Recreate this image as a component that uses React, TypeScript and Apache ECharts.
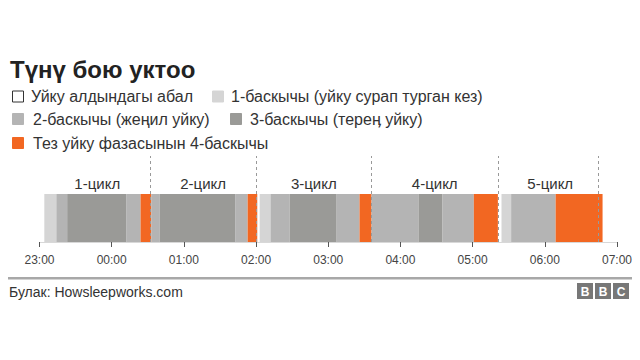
import React, { useEffect, useRef } from "react";
import * as echarts from "echarts";

// minutes after 23:00
const hourLabels = ["23:00", "00:00", "01:00", "02:00", "03:00", "04:00", "05:00", "06:00", "07:00"];
const segStart = [4, 14, 23, 72, 84, 93, 100, 163, 173, 183, 192, 208, 247, 266, 276, 315, 335, 361, 384, 392, 429];
const segEnd = [14, 23, 72, 84, 93, 100, 163, 173, 181, 192, 208, 247, 266, 276, 315, 335, 361, 381, 392, 429, 468];
const segStage = [1, 2, 3, 2, 4, 2, 3, 2, 4, 1, 2, 3, 2, 4, 2, 3, 2, 4, 1, 2, 4];
const cycleNames = ["1-цикл", "2-цикл", "3-цикл", "4-цикл", "5-цикл"];
const cycleStart = [4, 92, 180, 276, 381];
const cycleEnd = [92, 180, 276, 381, 468];
const cycleLines = [92, 180, 276, 381, 464];
const stageNames = [
  "Уйку алдындагы абал",
  "1-баскычы (уйку сурап турган кез)",
  "2-баскычы (жеңил уйку)",
  "3-баскычы (тереӊ уйку)",
  "Тез уйку фазасынын 4-баскычы",
];
const titleText = "Түнү бою уктоо";
const sourceText = "Булак: Howsleepworks.com";

const stageColors = ["#ffffff", "#d5d5d5", "#b4b4b4", "#9a9a97", "#f26722"];
const FONT = "'Liberation Sans', Arial, Helvetica, sans-serif";
const BAR_TOP = 0.558;
const LABEL_Y = 0.686;

export default function App() {
  const ref = useRef<HTMLDivElement>(null);
  useEffect(() => {
    document.body.style.margin = "0";
    const chart = echarts.init(ref.current!, null, { renderer: "svg" });
    const segData = segStart.map((s, i) => [s, segEnd[i], segStage[i]]);
    const labelData = cycleNames.map((n, i) => [(cycleStart[i] + cycleEnd[i]) / 2, LABEL_Y, i]);

    const legendItems = [
      { sq: 12, tx: 31, y: 96.5, stage: 0 },
      { sq: 212, tx: 231, y: 96.5, stage: 1 },
      { sq: 12, tx: 33, y: 119, stage: 2 },
      { sq: 230, tx: 250, y: 119, stage: 3 },
      { sq: 12, tx: 33, y: 143, stage: 4 },
    ];
    const graphics: any[] = [
      {
        type: "text",
        x: 10,
        y: 69,
        style: { text: titleText, font: `bold 24px ${FONT}`, fill: "#222", verticalAlign: "middle" },
      },
    ];
    legendItems.forEach((it) => {
      graphics.push({
        type: "rect",
        shape: { x: it.sq + 0.5, y: it.y - 5.5, width: 11, height: 11 },
        style: {
          fill: stageColors[it.stage],
          stroke: it.stage === 0 ? "#333" : stageColors[it.stage],
          lineWidth: 1,
        },
      });
      graphics.push({
        type: "text",
        x: it.tx,
        y: it.y,
        style: {
          text: stageNames[it.stage],
          font: `16px ${FONT}`,
          fill: "#333",
          verticalAlign: "middle",
        },
      });
    });
    graphics.push({
      type: "rect",
      shape: { x: 8, y: 277, width: 624, height: 2.5 },
      style: { fill: "#a8a8a8" },
    });
    graphics.push({
      type: "text",
      x: 9,
      y: 292,
      style: { text: sourceText, font: `14px ${FONT}`, fill: "#333", verticalAlign: "middle" },
    });
    ["B", "B", "C"].forEach((l, i) => {
      const x = 577 + i * 18;
      graphics.push({
        type: "rect",
        shape: { x, y: 283, width: 16, height: 16 },
        style: { fill: "#777" },
      });
      graphics.push({
        type: "text",
        x: x + 8,
        y: 291.5,
        style: {
          text: l,
          font: `bold 12px ${FONT}`,
          fill: "#fff",
          align: "center",
          verticalAlign: "middle",
        },
      });
    });

    chart.setOption({
      animation: false,
      grid: { left: 39.5, right: 23, top: 156, bottom: 118 },
      xAxis: {
        type: "value",
        min: 0,
        max: 480,
        interval: 60,
        splitLine: { show: false },
        axisLine: { show: true, lineStyle: { color: "#d8d8d8", width: 1 } },
        axisTick: { show: true, length: 5, lineStyle: { color: "#555" } },
        axisLabel: {
          margin: 12,
          fontSize: 12,
          color: "#444",
          fontFamily: FONT,
          formatter: (v: number) => hourLabels[Math.round(v / 60)],
        },
      },
      yAxis: { type: "value", min: 0, max: 1, show: false },
      graphic: graphics,
      series: [
        {
          type: "custom",
          data: segData,
          encode: { x: [0, 1] },
          renderItem: (params: any, api: any) => {
            const p0 = api.coord([api.value(0), BAR_TOP]);
            const p1 = api.coord([api.value(1), 0]);
            return {
              type: "rect",
              shape: { x: p0[0], y: p0[1], width: p1[0] - p0[0], height: p1[1] - p0[1] },
              style: { fill: stageColors[api.value(2)] },
            };
          },
          markLine: {
            silent: true,
            symbol: "none",
            label: { show: false },
            lineStyle: { color: "#999", type: [3, 3], width: 1 },
            data: cycleLines.map((v) => ({ xAxis: v })),
          },
          z: 2,
        },
        {
          type: "custom",
          data: labelData,
          encode: { x: 0, y: 1 },
          renderItem: (params: any, api: any) => {
            const p = api.coord([api.value(0), api.value(1)]);
            return {
              type: "text",
              x: p[0],
              y: p[1],
              style: {
                text: cycleNames[api.value(2)],
                font: `15px ${FONT}`,
                fill: "#333",
                align: "center",
                verticalAlign: "middle",
              },
            };
          },
          z: 3,
        },
      ],
    });
    return () => chart.dispose();
  }, []);
  return <div ref={ref} style={{ position: "absolute", left: 0, top: 0, width: 640, height: 360 }} />;
}
